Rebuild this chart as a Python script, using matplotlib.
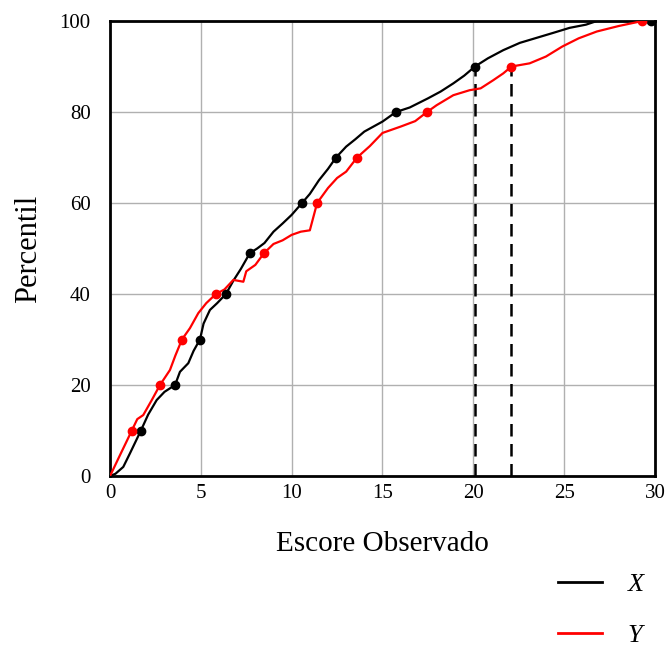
import matplotlib.pyplot as plt
from matplotlib.lines import Line2D

plt.rcParams['font.family'] = ['Liberation Serif', 'DejaVu Serif']

# curva X (escore, percentil)
x_esc = [0, 0.3, 0.73, 1.1, 1.4, 1.7, 2.1, 2.57, 3.0, 3.58, 3.85, 4.31, 4.6, 4.95,
         5.15, 5.5, 5.9, 6.38, 6.8, 7.2, 7.7, 8.1, 8.5, 9.0, 9.5, 10.0, 10.57,
         11.0, 11.5, 12.0, 12.44, 13.0, 13.5, 14.0, 14.5, 15.0, 15.74, 16.5,
         17.5, 18.2, 18.9, 19.5, 20.09, 20.8, 21.65, 22.56, 23.48, 24.4, 25.3,
         26.2, 26.8, 29.8]
x_pct = [0, 0.5, 2.0, 5.0, 7.5, 10, 13.5, 16.7, 18.5, 20, 22.9, 24.8, 27.5, 30,
         33.5, 36.5, 38.0, 40, 43.0, 45.5, 49, 50.0, 51.2, 53.7, 55.5, 57.4, 60,
         62.0, 65.0, 67.5, 70, 72.4, 74.0, 75.7, 76.8, 77.9, 80, 81.0,
         83.0, 84.5, 86.3, 88.0, 90, 91.8, 93.6, 95.2, 96.3, 97.4, 98.5,
         99.2, 100, 100]

# curva Y
y_esc = [0, 0.55, 0.9, 1.2, 1.5, 1.83, 2.3, 2.75, 3.3, 3.6, 3.96, 4.4, 4.86,
         5.3, 5.83, 6.3, 6.79, 7.34, 7.5, 8.0, 8.48, 9.0, 9.5, 10.0, 10.5,
         11.0, 11.4, 12.0, 12.5, 13.0, 13.6, 14.3, 15.0, 16.0, 16.8, 17.45,
         17.98, 18.9, 19.8, 20.4, 21.1, 21.65, 22.1, 23.1, 24.0, 24.9, 25.8,
         26.8, 28.0, 29.3]
y_pct = [0, 4.6, 7.5, 10, 12.5, 13.4, 16.7, 20, 23.3, 26.5, 30, 32.5, 35.8,
         38.0, 40, 41.0, 43.1, 42.7, 45.0, 46.4, 49, 51.0, 51.8, 53.0, 53.7,
         54.0, 60, 63.3, 65.5, 66.9, 70, 72.5, 75.4, 76.8, 78.0, 80,
         81.5, 83.7, 84.8, 85.2, 87.0, 88.5, 90, 90.7, 92.2, 94.4, 96.2,
         97.7, 98.9, 100]

# pontos marcados
x_mk = [1.7, 3.58, 4.95, 6.38, 7.7, 10.57, 12.44, 15.74, 20.09, 29.8]
x_mk_pct = [10, 20, 30, 40, 49, 60, 70, 80, 90, 100]
y_mk = [1.2, 2.75, 3.96, 5.83, 8.48, 11.4, 13.6, 17.45, 22.1, 29.3]
y_mk_pct = [10, 20, 30, 40, 49, 60, 70, 80, 90, 100]

fig = plt.figure(figsize=(6.68, 6.51), dpi=100)
ax = fig.add_axes([0.1647, 0.2688, 0.8158, 0.6989])

ax.plot(x_esc, x_pct, color='black', lw=1.6, zorder=3)
ax.plot(y_esc, y_pct, color='red', lw=1.6, zorder=3)
ax.plot(x_mk, x_mk_pct, 'o', color='black', ms=6, zorder=4)
ax.plot(y_mk, y_mk_pct, 'o', color='red', ms=6, zorder=4)

# linhas tracejadas no percentil 90
ax.plot([x_mk[8], x_mk[8]], [0, x_mk_pct[8]], '--', color='black', lw=1.8, dashes=(5, 3), zorder=2)
ax.plot([y_mk[8], y_mk[8]], [0, y_mk_pct[8]], '--', color='black', lw=1.8, dashes=(5, 3), zorder=2)

ax.set_xlim(0, 30)
ax.set_ylim(0, 100)
ax.set_xticks(range(0, 31, 5))
ax.set_yticks(range(0, 101, 20))
ax.grid(True, color='#b0b0b0', lw=1)
ax.set_axisbelow(True)
ax.tick_params(length=0, labelsize=15)
ax.tick_params(axis='x', pad=6)
ax.tick_params(axis='y', pad=14)
for s in ax.spines.values():
    s.set_color('black')
    s.set_linewidth(2)

ax.set_xlabel('Escore Observado', fontsize=21, labelpad=20)
ax.set_ylabel('Percentil', fontsize=22, labelpad=12)

handles = [Line2D([], [], color='black', lw=2), Line2D([], [], color='red', lw=2)]
leg = fig.legend(handles, ['X', 'Y'], loc='lower right', bbox_to_anchor=(0.999, -0.031),
                 frameon=False, handlelength=1.7, handletextpad=0.95,
                 labelspacing=1.05, prop={'style': 'italic', 'size': 19})

fig.savefig('out.png', dpi=100)
